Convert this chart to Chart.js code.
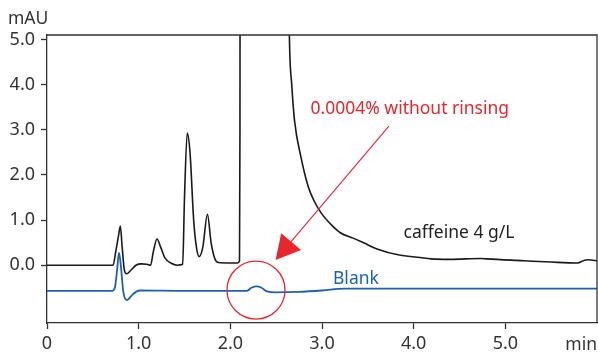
<!DOCTYPE html>
<html>
<head>
<meta charset="utf-8">
<script src="https://cdn.jsdelivr.net/npm/chart.js@4"></script>
<style>
  html, body { margin: 0; padding: 0; background: #fff; }
  #wrap { width: 598px; height: 357px; }
</style>
</head>
<body>
<div id="wrap"><canvas id="chromChart" width="598" height="357"></canvas></div>
<script>
// caffeine 4 g/L trace (min, mAU) - the big peak goes off scale
const caffeineTime = [0, 0.72, 0.75, 0.78, 0.80, 0.82, 0.845, 0.87, 0.92, 0.97, 1.03, 1.09, 1.13, 1.16, 1.20, 1.24, 1.29, 1.35, 1.42, 1.48,
  1.50, 1.53, 1.56, 1.60, 1.63, 1.66, 1.70, 1.75, 1.79, 1.83, 1.87, 2.00, 2.08, 2.10, 2.105, 2.11, 2.62, 2.63, 2.645, 2.67, 2.70,
  2.77, 2.85, 2.92, 2.99, 3.10, 3.20, 3.34, 3.46, 3.60, 3.83, 4.07, 4.19, 4.40, 4.73, 4.80, 5.20, 5.50, 5.79, 5.85, 5.90, 5.95, 6.0];
const caffeineValues = [0, 0, 0.3, 0.65, 0.87, 0.4, -0.12, -0.19, -0.1, 0.0, 0.03, 0.02, 0.0, 0.3, 0.58, 0.4, 0.15, 0.05, 0.0, 0.02,
  1.5, 2.93, 2.5, 1.0, 0.4, 0.19, 0.4, 1.13, 0.5, 0.15, 0.06, 0.05, 0.05, 0.1, 3, 20, 20, 8, 5.0, 4.0, 3.21,
  2.4, 1.74, 1.4, 1.16, 0.9, 0.72, 0.6, 0.49, 0.36, 0.23, 0.17, 0.14, 0.13, 0.15, 0.14, 0.1, 0.07, 0.05, 0.1, 0.12, 0.11, 0.1];

// blank trace
const blankTime = [0, 0.71, 0.74, 0.765, 0.785, 0.805, 0.83, 0.855, 0.875, 0.92, 0.97, 1.02, 1.5, 2.18, 2.23, 2.29, 2.34, 2.40, 2.50, 2.74, 3.0, 3.25, 6.0];
const blankValues = [-0.57, -0.57, -0.5, -0.1, 0.28, 0.0, -0.55, -0.75, -0.77, -0.68, -0.59, -0.56, -0.57, -0.57, -0.5, -0.47, -0.5, -0.58, -0.6, -0.59, -0.56, -0.52, -0.52];

const xTicks = [0, 1, 2, 3, 4, 5];
const yTicks = [0, 1, 2, 3, 4, 5];

const axisColor = '#333333';
const red = '#e8262e';
const blue = '#1c62b0';
const fontFamily = "'Noto Sans', 'Open Sans', sans-serif";

function toPoints(xs, ys) {
    return xs.map((x, i) => ({ x: x, y: ys[i] }));
}

// box + axis titles + red annotation
const decorations = {
    id: 'decorations',
    afterDatasetsDraw(chart) {
        const { ctx, chartArea: a, scales: { x, y } } = chart;
        ctx.save();

        // top and right frame
        ctx.strokeStyle = axisColor;
        ctx.lineWidth = 1.3;
        ctx.beginPath();
        ctx.moveTo(a.left, a.top);
        ctx.lineTo(a.right, a.top);
        ctx.lineTo(a.right, a.bottom);
        ctx.stroke();

        ctx.font = '17.5px ' + fontFamily;
        ctx.fillStyle = axisColor;
        ctx.textBaseline = 'middle';
        ctx.textAlign = 'left';
        ctx.fillText('mAU', 8, 19);
        ctx.textAlign = 'right';
        ctx.fillText('min', 597, 345);

        // trace labels
        ctx.textAlign = 'left';
        ctx.fillStyle = '#222';
        ctx.fillText('caffeine 4 g/L', x.getPixelForValue(3.89), y.getPixelForValue(0.71));
        ctx.fillStyle = blue;
        ctx.fillText('Blank', x.getPixelForValue(3.12), y.getPixelForValue(-0.30));

        ctx.fillStyle = red;
        ctx.fillText('0.0004% without rinsing', x.getPixelForValue(2.875), y.getPixelForValue(3.46));

        // circle round the blank bump
        ctx.strokeStyle = red;
        ctx.lineWidth = 1.3;
        ctx.beginPath();
        ctx.arc(x.getPixelForValue(2.28), y.getPixelForValue(-0.55), 29, 0, Math.PI * 2);
        ctx.stroke();

        // arrow
        const x0 = x.getPixelForValue(3.73), y0 = y.getPixelForValue(3.08);
        const x1 = x.getPixelForValue(2.494), y1 = y.getPixelForValue(0.117);
        const len = Math.hypot(x1 - x0, y1 - y0);
        const ux = (x1 - x0) / len, uy = (y1 - y0) / len;
        const headLen = 24, headHalf = 13;
        const bx = x1 - ux * headLen, by = y1 - uy * headLen;
        ctx.lineWidth = 1.1;
        ctx.beginPath();
        ctx.moveTo(x0, y0);
        ctx.lineTo(bx, by);
        ctx.stroke();
        ctx.fillStyle = red;
        ctx.beginPath();
        ctx.moveTo(x1, y1);
        ctx.lineTo(bx - uy * headHalf, by + ux * headHalf);
        ctx.lineTo(bx + uy * headHalf, by - ux * headHalf);
        ctx.closePath();
        ctx.fill();

        ctx.restore();
    }
};

const ctx = document.getElementById('chromChart').getContext('2d');

new Chart(ctx, {
    type: 'line',
    data: {
        datasets: [
            {
                label: 'caffeine 4 g/L',
                data: toPoints(caffeineTime, caffeineValues),
                borderColor: '#1a1a1a',
                borderWidth: 1.6,
                pointRadius: 0,
                cubicInterpolationMode: 'monotone'
            },
            {
                label: 'Blank',
                data: toPoints(blankTime, blankValues),
                borderColor: blue,
                borderWidth: 1.8,
                pointRadius: 0,
                cubicInterpolationMode: 'monotone'
            }
        ]
    },
    options: {
        responsive: false,
        animation: false,
        layout: { padding: { top: 35, right: 1, left: 0, bottom: 0 } },
        plugins: { legend: { display: false }, tooltip: { enabled: false } },
        scales: {
            x: {
                type: 'linear',
                min: 0,
                max: 6.0,
                afterBuildTicks: s => { s.ticks = xTicks.map(v => ({ value: v })); },
                afterFit: s => { s.height = 34; },
                ticks: {
                    color: axisColor,
                    padding: 4,
                    maxRotation: 0,
                    font: { family: fontFamily, size: 18 },
                    callback: v => v === 0 ? '0' : v.toFixed(1)
                },
                grid: { drawOnChartArea: false, tickLength: 6, color: axisColor, tickWidth: 1.3 },
                border: { color: axisColor, width: 1.3 }
            },
            y: {
                min: -1.28,
                max: 5.1,
                afterBuildTicks: s => { s.ticks = yTicks.map(v => ({ value: v })); },
                afterFit: s => { s.width = 47; },
                ticks: {
                    color: axisColor,
                    padding: 6,
                    font: { family: fontFamily, size: 18 },
                    callback: v => v.toFixed(1)
                },
                grid: { drawOnChartArea: false, tickLength: 6, color: axisColor, tickWidth: 1.3 },
                border: { color: axisColor, width: 1.3 }
            }
        }
    },
    plugins: [decorations]
});
</script>
</body>
</html>
